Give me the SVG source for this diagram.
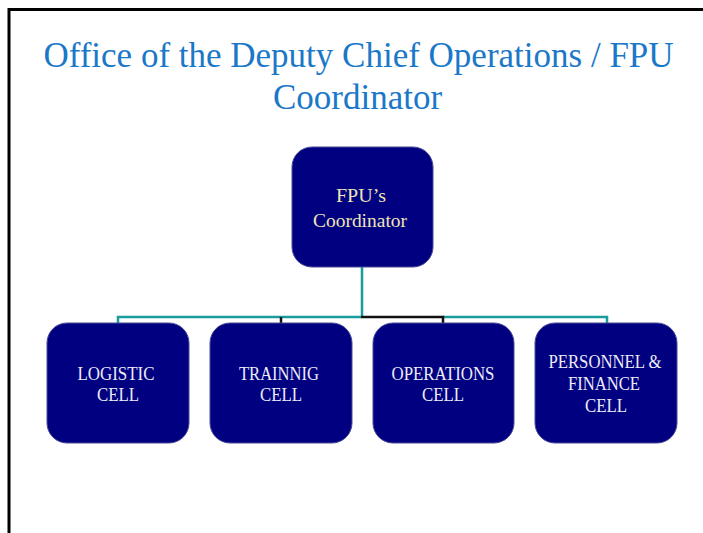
<svg xmlns="http://www.w3.org/2000/svg" width="703" height="533" viewBox="0 0 703 533">
<style>
.box{fill:#000080;stroke:#4b4b98;stroke-width:1}
.t{font-family:"Liberation Serif","Times New Roman",serif;font-size:18px;text-anchor:middle;fill:#ececf6}
.ty{fill:#efe6b4;font-size:19px}
.title{font-family:"Liberation Serif","Times New Roman",serif;font-size:35px;fill:#1b78c8;text-anchor:middle}
.teal{stroke:#199c9c;stroke-width:2.5;fill:none}
.blk{stroke:#111;stroke-width:2.5;fill:none}
</style>
<rect width="703" height="533" fill="#fff"/>
<path d="M9,533 V9.5 H703" fill="none" stroke="#000" stroke-width="3"/>
<g id="title">
<text class="title" x="358.5" y="67">Office of the Deputy Chief Operations / FPU</text>
<text class="title" x="357.5" y="109">Coordinator</text>
</g>
<g id="connectors">
<path class="teal" d="M362,267 V317 M118,324 V317 H362 M443,317 H607 V324"/>
<path class="blk" d="M361,317 H443 V324 M281,317 V324"/>
</g>
<g id="coordinator">
<rect class="box" x="292" y="147" width="141" height="120" rx="20"/>
<text class="t ty" x="361" y="202" textLength="50" lengthAdjust="spacingAndGlyphs">FPU’s</text>
<text class="t ty" x="360" y="227" textLength="94" lengthAdjust="spacingAndGlyphs">Coordinator</text>
</g>
<g id="logistic">
<rect class="box" x="47" y="323" width="142" height="120" rx="20"/>
<text class="t" x="116" y="380" textLength="77" lengthAdjust="spacingAndGlyphs">LOGISTIC</text>
<text class="t" x="118" y="401" textLength="42" lengthAdjust="spacingAndGlyphs">CELL</text>
</g>
<g id="training">
<rect class="box" x="210" y="323" width="142" height="120" rx="20"/>
<text class="t" x="279" y="380" textLength="80" lengthAdjust="spacingAndGlyphs">TRAINNIG</text>
<text class="t" x="281" y="401" textLength="42" lengthAdjust="spacingAndGlyphs">CELL</text>
</g>
<g id="operations">
<rect class="box" x="373" y="323" width="141" height="120" rx="20"/>
<text class="t" x="443" y="380" textLength="103" lengthAdjust="spacingAndGlyphs">OPERATIONS</text>
<text class="t" x="443" y="401" textLength="42" lengthAdjust="spacingAndGlyphs">CELL</text>
</g>
<g id="personnel">
<rect class="box" x="535" y="323" width="142" height="120" rx="20"/>
<text class="t" x="605" y="368" textLength="113" lengthAdjust="spacingAndGlyphs">PERSONNEL &amp;</text>
<text class="t" x="604" y="390" textLength="72" lengthAdjust="spacingAndGlyphs">FINANCE</text>
<text class="t" x="606" y="412" textLength="42" lengthAdjust="spacingAndGlyphs">CELL</text>
</g>
</svg>
